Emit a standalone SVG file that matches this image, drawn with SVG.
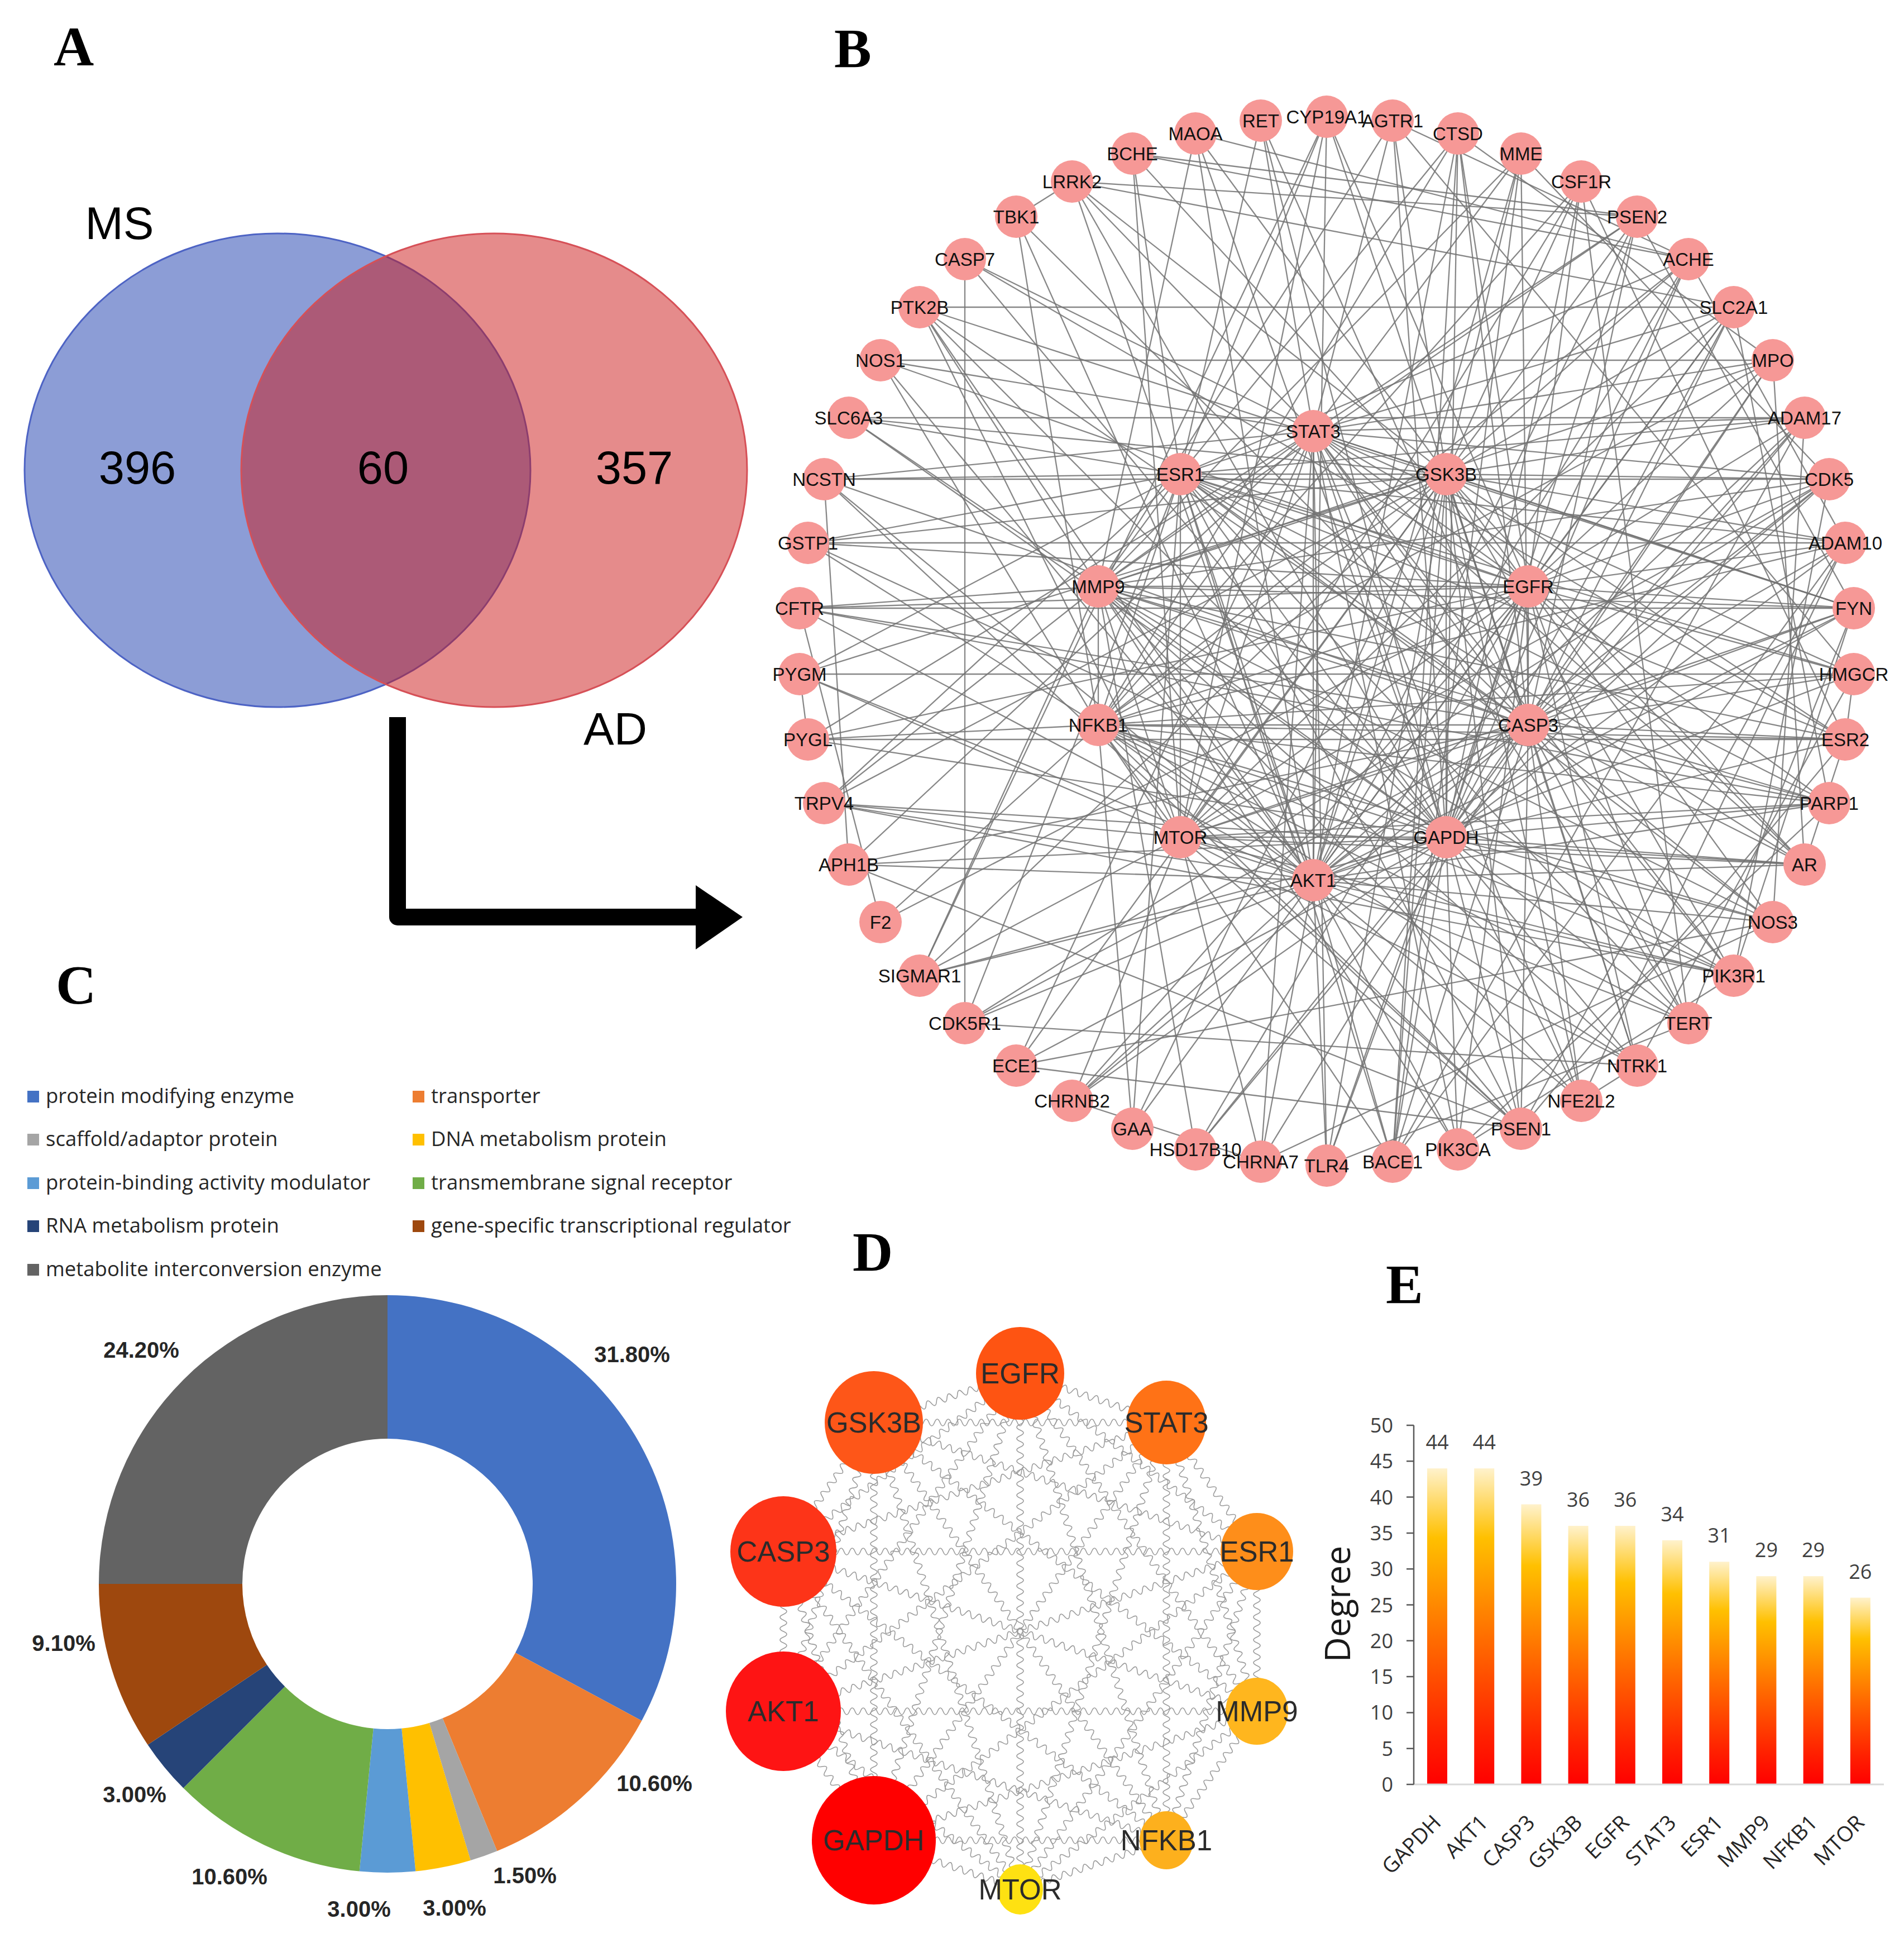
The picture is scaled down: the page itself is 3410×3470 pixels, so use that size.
<svg xmlns="http://www.w3.org/2000/svg" width="3410" height="3470" viewBox="0 0 3410 3470">
<style>
.pl{font-family:"Liberation Serif","Times New Roman",serif;font-weight:bold;font-size:100px;fill:#000}
.vt{font-family:"Liberation Sans",Arial,sans-serif;fill:#000;text-anchor:middle}
.edge path{stroke:#727272;stroke-width:2.3;stroke-opacity:.85;fill:none}
.bn circle{fill:#f69896}
.bn text{font-family:"Liberation Sans",Arial,sans-serif;font-size:33px;text-anchor:middle;fill:#111}
.lg text{font-family:"Open Sans","Liberation Sans",sans-serif;font-size:36.5px;fill:#262626}
.pc{font-family:"Liberation Sans",Arial,sans-serif;font-weight:bold;font-size:40px;fill:#262626;text-anchor:middle}
.dn text{font-family:"Liberation Sans",Arial,sans-serif;font-size:51px;text-anchor:middle;fill:#2b2b2b}
.wv use{stroke:#9b9b9b;stroke-width:1.6;fill:none}
.et{font-family:"Open Sans","Liberation Sans",sans-serif;font-size:36px;fill:#404040}
</style>
<defs>
<linearGradient id="barg" x1="0" y1="0" x2="0" y2="1">
<stop offset="0" stop-color="#fff2cc"/>
<stop offset="0.22" stop-color="#ffc000"/>
<stop offset="0.55" stop-color="#ff6a00"/>
<stop offset="0.85" stop-color="#ff2000"/>
<stop offset="1" stop-color="#ff0000"/>
</linearGradient>
<path id="w280" vector-effect="non-scaling-stroke" d="M0 0q5 -12 10 0t10 0t10 0t10 0t10 0t10 0t10 0t10 0t10 0t10 0t10 0t10 0t10 0t10 0t10 0t10 0t10 0t10 0t10 0t10 0t10 0t10 0t10 0t10 0t10 0t10 0t10 0t10 0"/>
<path id="w530" vector-effect="non-scaling-stroke" d="M0 0q5 -12 10 0t10 0t10 0t10 0t10 0t10 0t10 0t10 0t10 0t10 0t10 0t10 0t10 0t10 0t10 0t10 0t10 0t10 0t10 0t10 0t10 0t10 0t10 0t10 0t10 0t10 0t10 0t10 0t10 0t10 0t10 0t10 0t10 0t10 0t10 0t10 0t10 0t10 0t10 0t10 0t10 0t10 0t10 0t10 0t10 0t10 0t10 0t10 0t10 0t10 0t10 0t10 0t10 0"/>
<path id="w740" vector-effect="non-scaling-stroke" d="M0 0q5 -12 10 0t10 0t10 0t10 0t10 0t10 0t10 0t10 0t10 0t10 0t10 0t10 0t10 0t10 0t10 0t10 0t10 0t10 0t10 0t10 0t10 0t10 0t10 0t10 0t10 0t10 0t10 0t10 0t10 0t10 0t10 0t10 0t10 0t10 0t10 0t10 0t10 0t10 0t10 0t10 0t10 0t10 0t10 0t10 0t10 0t10 0t10 0t10 0t10 0t10 0t10 0t10 0t10 0t10 0t10 0t10 0t10 0t10 0t10 0t10 0t10 0t10 0t10 0t10 0t10 0t10 0t10 0t10 0t10 0t10 0t10 0t10 0t10 0"/>
<path id="w860" vector-effect="non-scaling-stroke" d="M0 0q5 -12 10 0t10 0t10 0t10 0t10 0t10 0t10 0t10 0t10 0t10 0t10 0t10 0t10 0t10 0t10 0t10 0t10 0t10 0t10 0t10 0t10 0t10 0t10 0t10 0t10 0t10 0t10 0t10 0t10 0t10 0t10 0t10 0t10 0t10 0t10 0t10 0t10 0t10 0t10 0t10 0t10 0t10 0t10 0t10 0t10 0t10 0t10 0t10 0t10 0t10 0t10 0t10 0t10 0t10 0t10 0t10 0t10 0t10 0t10 0t10 0t10 0t10 0t10 0t10 0t10 0t10 0t10 0t10 0t10 0t10 0t10 0t10 0t10 0t10 0t10 0t10 0t10 0t10 0t10 0t10 0t10 0t10 0t10 0t10 0"/>
<path id="w910" vector-effect="non-scaling-stroke" d="M0 0q5 -12 10 0t10 0t10 0t10 0t10 0t10 0t10 0t10 0t10 0t10 0t10 0t10 0t10 0t10 0t10 0t10 0t10 0t10 0t10 0t10 0t10 0t10 0t10 0t10 0t10 0t10 0t10 0t10 0t10 0t10 0t10 0t10 0t10 0t10 0t10 0t10 0t10 0t10 0t10 0t10 0t10 0t10 0t10 0t10 0t10 0t10 0t10 0t10 0t10 0t10 0t10 0t10 0t10 0t10 0t10 0t10 0t10 0t10 0t10 0t10 0t10 0t10 0t10 0t10 0t10 0t10 0t10 0t10 0t10 0t10 0t10 0t10 0t10 0t10 0t10 0t10 0t10 0t10 0t10 0t10 0t10 0t10 0t10 0t10 0t10 0t10 0t10 0t10 0t10 0t10 0"/>
</defs>
<rect width="3410" height="3470" fill="#fff"/>

<!-- Panel labels -->
<text class="pl" x="96" y="117">A</text>
<text class="pl" x="1494" y="120">B</text>
<text class="pl" x="100" y="1797">C</text>
<text class="pl" x="1527" y="2275">D</text>
<text class="pl" x="2482" y="2333">E</text>

<!-- Panel A: Venn -->
<g id="venn-MS">
<ellipse cx="497" cy="842" rx="453" ry="424" fill="#8c9dd6" stroke="#4d63c4" stroke-width="3"/>
<text class="vt" x="214" y="428" font-size="82">MS</text>
</g>
<g id="venn-AD">
<ellipse cx="885" cy="842" rx="453" ry="424" fill="#cb1717" fill-opacity="0.5" stroke="#d65057" stroke-width="3"/>
<text class="vt" x="1102" y="1333" font-size="82">AD</text>
</g>
<text class="vt" x="246" y="866" font-size="83">396</text>
<text class="vt" x="686" y="866" font-size="83">60</text>
<text class="vt" x="1136" y="866" font-size="83">357</text>
<g id="arrow-A-B">
<path d="M712 1284L712 1642L1252 1642" fill="none" stroke="#000" stroke-width="30" stroke-linejoin="round"/>
<polygon points="1246,1585 1330,1642 1246,1700" fill="#000"/>
</g>

<!-- Panel B: network connectors -->
<g id="connectors-B" class="edge">
<path d="M2352 772L2590 849"/><path d="M2352 772L2737 1050"/><path d="M2352 772L2737 1298"/><path d="M2352 772L2590 1499"/><path d="M2352 772L2352 1576"/><path d="M2352 772L2114 1499"/><path d="M2352 772L1967 1298"/><path d="M2352 772L1967 1050"/><path d="M2352 772L2114 849"/>
<path d="M2590 849L2737 1050"/><path d="M2590 849L2737 1298"/><path d="M2590 849L2590 1499"/><path d="M2590 849L2352 1576"/><path d="M2590 849L2114 1499"/><path d="M2590 849L1967 1298"/><path d="M2590 849L1967 1050"/><path d="M2590 849L2114 849"/>
<path d="M2737 1050L2737 1298"/><path d="M2737 1050L2590 1499"/><path d="M2737 1050L2352 1576"/><path d="M2737 1050L2114 1499"/><path d="M2737 1050L1967 1298"/><path d="M2737 1050L1967 1050"/><path d="M2737 1050L2114 849"/>
<path d="M2737 1298L2590 1499"/><path d="M2737 1298L2352 1576"/><path d="M2737 1298L2114 1499"/><path d="M2737 1298L1967 1298"/><path d="M2737 1298L1967 1050"/><path d="M2737 1298L2114 849"/>
<path d="M2590 1499L2352 1576"/><path d="M2590 1499L2114 1499"/><path d="M2590 1499L1967 1298"/><path d="M2590 1499L1967 1050"/><path d="M2590 1499L2114 849"/>
<path d="M2352 1576L2114 1499"/><path d="M2352 1576L1967 1298"/><path d="M2352 1576L1967 1050"/><path d="M2352 1576L2114 849"/>
<path d="M2114 1499L1967 1298"/><path d="M2114 1499L1967 1050"/><path d="M2114 1499L2114 849"/>
<path d="M1967 1298L1967 1050"/><path d="M1967 1298L2114 849"/><path d="M1967 1050L2114 849"/>
<!-- GAPDH -->
<path d="M2590 1499L2494 216"/><path d="M2590 1499L2611 239"/><path d="M2590 1499L2832 325"/><path d="M2590 1499L2932 388"/><path d="M2590 1499L3024 464"/><path d="M2590 1499L3105 550"/><path d="M2590 1499L3175 645"/><path d="M2590 1499L3276 858"/><path d="M2590 1499L3305 972"/><path d="M2590 1499L3320 1089"/><path d="M2590 1499L3305 1324"/><path d="M2590 1499L3276 1438"/><path d="M2590 1499L3232 1548"/><path d="M2590 1499L3175 1651"/><path d="M2590 1499L3105 1747"/><path d="M2590 1499L3024 1832"/><path d="M2590 1499L2932 1908"/><path d="M2590 1499L2832 1971"/><path d="M2590 1499L2724 2021"/><path d="M2590 1499L2611 2058"/><path d="M2590 1499L2494 2080"/><path d="M2590 1499L2376 2087"/><path d="M2590 1499L2141 2058"/><path d="M2590 1499L1920 1971"/><path d="M2590 1499L1820 1908"/><path d="M2590 1499L1647 1747"/><path d="M2590 1499L1520 1548"/><path d="M2590 1499L1447 1324"/><path d="M2590 1499L1447 972"/><path d="M2590 1499L1520 748"/><path d="M2590 1499L1647 550"/><path d="M2590 1499L1728 464"/><path d="M2590 1499L1920 325"/><path d="M2590 1499L2141 239"/><path d="M2590 1499L2258 216"/>
<!-- AKT1 -->
<path d="M2352 1576L2376 209"/><path d="M2352 1576L2611 239"/><path d="M2352 1576L2724 275"/><path d="M2352 1576L2932 388"/><path d="M2352 1576L3024 464"/><path d="M2352 1576L3105 550"/><path d="M2352 1576L3232 748"/><path d="M2352 1576L3276 858"/><path d="M2352 1576L3320 1089"/><path d="M2352 1576L3320 1207"/><path d="M2352 1576L3276 1438"/><path d="M2352 1576L3232 1548"/><path d="M2352 1576L3175 1651"/><path d="M2352 1576L3105 1747"/><path d="M2352 1576L3024 1832"/><path d="M2352 1576L2832 1971"/><path d="M2352 1576L2724 2021"/><path d="M2352 1576L2611 2058"/><path d="M2352 1576L2494 2080"/><path d="M2352 1576L2376 2087"/><path d="M2352 1576L2258 2080"/><path d="M2352 1576L2028 2021"/><path d="M2352 1576L1920 1971"/><path d="M2352 1576L1728 1832"/><path d="M2352 1576L1647 1747"/><path d="M2352 1576L1520 1548"/><path d="M2352 1576L1476 1438"/><path d="M2352 1576L1432 1207"/><path d="M2352 1576L1432 1089"/><path d="M2352 1576L1476 858"/><path d="M2352 1576L1577 645"/><path d="M2352 1576L1647 550"/><path d="M2352 1576L1820 388"/><path d="M2352 1576L1920 325"/><path d="M2352 1576L2141 239"/>
<!-- CASP3 -->
<path d="M2737 1298L2376 209"/><path d="M2737 1298L2611 239"/><path d="M2737 1298L2724 275"/><path d="M2737 1298L2932 388"/><path d="M2737 1298L3105 550"/><path d="M2737 1298L3175 645"/><path d="M2737 1298L3232 748"/><path d="M2737 1298L3276 858"/><path d="M2737 1298L3305 972"/><path d="M2737 1298L3320 1089"/><path d="M2737 1298L3320 1207"/><path d="M2737 1298L3305 1324"/><path d="M2737 1298L3276 1438"/><path d="M2737 1298L3232 1548"/><path d="M2737 1298L3175 1651"/><path d="M2737 1298L3105 1747"/><path d="M2737 1298L3024 1832"/><path d="M2737 1298L2932 1908"/><path d="M2737 1298L2832 1971"/><path d="M2737 1298L2724 2021"/><path d="M2737 1298L2494 2080"/><path d="M2737 1298L2258 2080"/><path d="M2737 1298L1920 1971"/><path d="M2737 1298L1728 1832"/><path d="M2737 1298L1520 1548"/><path d="M2737 1298L1432 1089"/><path d="M2737 1298L1476 858"/><path d="M2737 1298L1647 550"/><path d="M2737 1298L1820 388"/><path d="M2737 1298L2258 216"/>
<!-- GSK3B -->
<path d="M2590 849L2494 216"/><path d="M2590 849L2724 275"/><path d="M2590 849L2832 325"/><path d="M2590 849L2932 388"/><path d="M2590 849L3024 464"/><path d="M2590 849L3105 550"/><path d="M2590 849L3232 748"/><path d="M2590 849L3276 858"/><path d="M2590 849L3305 972"/><path d="M2590 849L3320 1089"/><path d="M2590 849L3305 1324"/><path d="M2590 849L3232 1548"/><path d="M2590 849L3105 1747"/><path d="M2590 849L2932 1908"/><path d="M2590 849L2832 1971"/><path d="M2590 849L2724 2021"/><path d="M2590 849L2494 2080"/><path d="M2590 849L2376 2087"/><path d="M2590 849L2028 2021"/><path d="M2590 849L1820 1908"/><path d="M2590 849L1647 1747"/><path d="M2590 849L1476 1438"/><path d="M2590 849L1432 1207"/><path d="M2590 849L1447 972"/><path d="M2590 849L1520 748"/><path d="M2590 849L1920 325"/><path d="M2590 849L2141 239"/>
<!-- EGFR -->
<path d="M2737 1050L2376 209"/><path d="M2737 1050L2611 239"/><path d="M2737 1050L2832 325"/><path d="M2737 1050L3024 464"/><path d="M2737 1050L3105 550"/><path d="M2737 1050L3175 645"/><path d="M2737 1050L3232 748"/><path d="M2737 1050L3276 858"/><path d="M2737 1050L3305 972"/><path d="M2737 1050L3320 1089"/><path d="M2737 1050L3320 1207"/><path d="M2737 1050L3276 1438"/><path d="M2737 1050L3232 1548"/><path d="M2737 1050L3175 1651"/><path d="M2737 1050L3024 1832"/><path d="M2737 1050L2932 1908"/><path d="M2737 1050L2611 2058"/><path d="M2737 1050L2376 2087"/><path d="M2737 1050L2141 2058"/><path d="M2737 1050L1920 1971"/><path d="M2737 1050L1577 1651"/><path d="M2737 1050L1447 1324"/><path d="M2737 1050L1432 1089"/><path d="M2737 1050L1447 972"/><path d="M2737 1050L1577 645"/><path d="M2737 1050L1728 464"/><path d="M2737 1050L2028 275"/>
<!-- STAT3 -->
<path d="M2352 772L2494 216"/><path d="M2352 772L2724 275"/><path d="M2352 772L2932 388"/><path d="M2352 772L3105 550"/><path d="M2352 772L3175 645"/><path d="M2352 772L3232 748"/><path d="M2352 772L3276 858"/><path d="M2352 772L3320 1089"/><path d="M2352 772L3320 1207"/><path d="M2352 772L3305 1324"/><path d="M2352 772L3232 1548"/><path d="M2352 772L3105 1747"/><path d="M2352 772L3024 1832"/><path d="M2352 772L2832 1971"/><path d="M2352 772L2611 2058"/><path d="M2352 772L2376 2087"/><path d="M2352 772L2258 2080"/><path d="M2352 772L1820 1908"/><path d="M2352 772L1520 1548"/><path d="M2352 772L1447 1324"/><path d="M2352 772L1476 858"/><path d="M2352 772L1577 645"/><path d="M2352 772L1728 464"/><path d="M2352 772L1920 325"/><path d="M2352 772L2258 216"/>
<!-- ESR1 -->
<path d="M2114 849L2376 209"/><path d="M2114 849L2611 239"/><path d="M2114 849L3024 464"/><path d="M2114 849L3232 748"/><path d="M2114 849L3305 972"/><path d="M2114 849L3320 1207"/><path d="M2114 849L3305 1324"/><path d="M2114 849L3276 1438"/><path d="M2114 849L3232 1548"/><path d="M2114 849L3175 1651"/><path d="M2114 849L3024 1832"/><path d="M2114 849L2724 2021"/><path d="M2114 849L2494 2080"/><path d="M2114 849L2028 2021"/><path d="M2114 849L1728 1832"/><path d="M2114 849L1476 1438"/><path d="M2114 849L1432 1207"/><path d="M2114 849L1447 972"/><path d="M2114 849L1476 858"/><path d="M2114 849L1520 748"/><path d="M2114 849L2028 275"/><path d="M2114 849L2258 216"/>
<!-- MMP9 -->
<path d="M1967 1050L2494 216"/><path d="M1967 1050L2724 275"/><path d="M1967 1050L2932 388"/><path d="M1967 1050L3175 645"/><path d="M1967 1050L3276 858"/><path d="M1967 1050L3320 1089"/><path d="M1967 1050L3305 1324"/><path d="M1967 1050L3276 1438"/><path d="M1967 1050L3175 1651"/><path d="M1967 1050L3105 1747"/><path d="M1967 1050L2932 1908"/><path d="M1967 1050L2832 1971"/><path d="M1967 1050L2611 2058"/><path d="M1967 1050L2141 2058"/><path d="M1967 1050L1647 1747"/><path d="M1967 1050L1476 1438"/><path d="M1967 1050L1432 1089"/><path d="M1967 1050L1520 748"/><path d="M1967 1050L1647 550"/><path d="M1967 1050L2141 239"/>
<!-- NFKB1 -->
<path d="M1967 1298L2611 239"/><path d="M1967 1298L2832 325"/><path d="M1967 1298L3024 464"/><path d="M1967 1298L3175 645"/><path d="M1967 1298L3305 972"/><path d="M1967 1298L3320 1207"/><path d="M1967 1298L3305 1324"/><path d="M1967 1298L3276 1438"/><path d="M1967 1298L3175 1651"/><path d="M1967 1298L3105 1747"/><path d="M1967 1298L3024 1832"/><path d="M1967 1298L2932 1908"/><path d="M1967 1298L2724 2021"/><path d="M1967 1298L2494 2080"/><path d="M1967 1298L2028 2021"/><path d="M1967 1298L1577 1651"/><path d="M1967 1298L1447 1324"/><path d="M1967 1298L1447 972"/><path d="M1967 1298L1577 645"/><path d="M1967 1298L1820 388"/>
<!-- MTOR -->
<path d="M2114 1499L2376 209"/><path d="M2114 1499L2832 325"/><path d="M2114 1499L3105 550"/><path d="M2114 1499L3276 858"/><path d="M2114 1499L3320 1089"/><path d="M2114 1499L3276 1438"/><path d="M2114 1499L3232 1548"/><path d="M2114 1499L3105 1747"/><path d="M2114 1499L2932 1908"/><path d="M2114 1499L2724 2021"/><path d="M2114 1499L2258 2080"/><path d="M2114 1499L1920 1971"/><path d="M2114 1499L1647 1747"/><path d="M2114 1499L1476 1438"/><path d="M2114 1499L1432 1207"/><path d="M2114 1499L1647 550"/><path d="M2114 1499L2028 275"/>
<!-- outer-outer -->
<path d="M1647 550L3105 550"/><path d="M1577 645L3175 645"/><path d="M1476 858L3276 858"/><path d="M1647 550L3320 1089"/><path d="M1447 972L3305 972"/><path d="M1520 748L3232 748"/><path d="M1920 325L2932 388"/><path d="M2028 275L3024 464"/><path d="M2141 239L3024 464"/><path d="M1820 1908L3175 1651"/><path d="M1520 1548L2724 2021"/><path d="M1520 1548L1476 858"/><path d="M1476 858L2724 2021"/><path d="M1920 1971L2258 2080"/><path d="M1447 1324L1432 1207"/><path d="M2494 2080L3305 972"/><path d="M2494 2080L3232 748"/><path d="M2724 2021L3305 972"/><path d="M2724 275L2494 2080"/><path d="M2611 239L2494 2080"/><path d="M1820 388L1920 325"/><path d="M3276 858L1728 1832"/><path d="M3105 1747L2611 2058"/><path d="M3105 1747L3320 1089"/><path d="M2932 1908L2832 1971"/><path d="M3232 1548L3305 1324"/><path d="M3320 1207L3305 1324"/><path d="M1577 1651L1432 1089"/><path d="M1476 1438L3105 1747"/><path d="M1647 1747L2376 209"/><path d="M1728 464L1728 1832"/><path d="M2494 216L3320 1207"/><path d="M2832 325L3024 1832"/><path d="M2141 2058L3232 748"/><path d="M1432 1089L3276 1438"/>
<path d="M3024 464L3305 972"/><path d="M3105 550L3276 1438"/><path d="M3175 645L3232 1548"/><path d="M3232 748L3175 1651"/><path d="M3320 1089L3024 1832"/><path d="M3320 1207L2932 1908"/><path d="M3305 972L2832 1971"/><path d="M3305 1324L2724 2021"/><path d="M3276 1438L2611 2058"/><path d="M3276 858L3105 1747"/><path d="M2932 388L3320 1089"/><path d="M2832 325L3305 1324"/><path d="M2724 275L3276 858"/><path d="M2611 239L3175 645"/><path d="M2494 216L3024 464"/><path d="M2028 275L2932 388"/><path d="M1920 325L3105 550"/><path d="M1432 1207L3320 1207"/><path d="M1476 1438L3232 1548"/><path d="M1447 1324L3305 1324"/><path d="M1728 1832L2932 1908"/><path d="M1820 1908L2724 2021"/><path d="M2376 2087L3024 1832"/><path d="M2258 2080L3175 1651"/><path d="M1432 1089L3320 1089"/>
</g>

<!-- Panel B: nodes -->
<g id="n-CYP19A1" class="bn"><circle cx="2376" cy="209" r="38"/><text x="2376" y="221">CYP19A1</text></g>
<g id="n-AGTR1" class="bn"><circle cx="2494" cy="216" r="38"/><text x="2494" y="228">AGTR1</text></g>
<g id="n-CTSD" class="bn"><circle cx="2611" cy="239" r="38"/><text x="2611" y="251">CTSD</text></g>
<g id="n-MME" class="bn"><circle cx="2724" cy="275" r="38"/><text x="2724" y="287">MME</text></g>
<g id="n-CSF1R" class="bn"><circle cx="2832" cy="325" r="38"/><text x="2832" y="337">CSF1R</text></g>
<g id="n-PSEN2" class="bn"><circle cx="2932" cy="388" r="38"/><text x="2932" y="400">PSEN2</text></g>
<g id="n-ACHE" class="bn"><circle cx="3024" cy="464" r="38"/><text x="3024" y="476">ACHE</text></g>
<g id="n-SLC2A1" class="bn"><circle cx="3105" cy="550" r="38"/><text x="3105" y="562">SLC2A1</text></g>
<g id="n-MPO" class="bn"><circle cx="3175" cy="645" r="38"/><text x="3175" y="657">MPO</text></g>
<g id="n-ADAM17" class="bn"><circle cx="3232" cy="748" r="38"/><text x="3232" y="760">ADAM17</text></g>
<g id="n-CDK5" class="bn"><circle cx="3276" cy="858" r="38"/><text x="3276" y="870">CDK5</text></g>
<g id="n-ADAM10" class="bn"><circle cx="3305" cy="972" r="38"/><text x="3305" y="984">ADAM10</text></g>
<g id="n-FYN" class="bn"><circle cx="3320" cy="1089" r="38"/><text x="3320" y="1101">FYN</text></g>
<g id="n-HMGCR" class="bn"><circle cx="3320" cy="1207" r="38"/><text x="3320" y="1219">HMGCR</text></g>
<g id="n-ESR2" class="bn"><circle cx="3305" cy="1324" r="38"/><text x="3305" y="1336">ESR2</text></g>
<g id="n-PARP1" class="bn"><circle cx="3276" cy="1438" r="38"/><text x="3276" y="1450">PARP1</text></g>
<g id="n-AR" class="bn"><circle cx="3232" cy="1548" r="38"/><text x="3232" y="1560">AR</text></g>
<g id="n-NOS3" class="bn"><circle cx="3175" cy="1651" r="38"/><text x="3175" y="1663">NOS3</text></g>
<g id="n-PIK3R1" class="bn"><circle cx="3105" cy="1747" r="38"/><text x="3105" y="1759">PIK3R1</text></g>
<g id="n-TERT" class="bn"><circle cx="3024" cy="1832" r="38"/><text x="3024" y="1844">TERT</text></g>
<g id="n-NTRK1" class="bn"><circle cx="2932" cy="1908" r="38"/><text x="2932" y="1920">NTRK1</text></g>
<g id="n-NFE2L2" class="bn"><circle cx="2832" cy="1971" r="38"/><text x="2832" y="1983">NFE2L2</text></g>
<g id="n-PSEN1" class="bn"><circle cx="2724" cy="2021" r="38"/><text x="2724" y="2033">PSEN1</text></g>
<g id="n-PIK3CA" class="bn"><circle cx="2611" cy="2058" r="38"/><text x="2611" y="2070">PIK3CA</text></g>
<g id="n-BACE1" class="bn"><circle cx="2494" cy="2080" r="38"/><text x="2494" y="2092">BACE1</text></g>
<g id="n-TLR4" class="bn"><circle cx="2376" cy="2087" r="38"/><text x="2376" y="2099">TLR4</text></g>
<g id="n-CHRNA7" class="bn"><circle cx="2258" cy="2080" r="38"/><text x="2258" y="2092">CHRNA7</text></g>
<g id="n-HSD17B10" class="bn"><circle cx="2141" cy="2058" r="38"/><text x="2141" y="2070">HSD17B10</text></g>
<g id="n-GAA" class="bn"><circle cx="2028" cy="2021" r="38"/><text x="2028" y="2033">GAA</text></g>
<g id="n-CHRNB2" class="bn"><circle cx="1920" cy="1971" r="38"/><text x="1920" y="1983">CHRNB2</text></g>
<g id="n-ECE1" class="bn"><circle cx="1820" cy="1908" r="38"/><text x="1820" y="1920">ECE1</text></g>
<g id="n-CDK5R1" class="bn"><circle cx="1728" cy="1832" r="38"/><text x="1728" y="1844">CDK5R1</text></g>
<g id="n-SIGMAR1" class="bn"><circle cx="1647" cy="1747" r="38"/><text x="1647" y="1759">SIGMAR1</text></g>
<g id="n-F2" class="bn"><circle cx="1577" cy="1651" r="38"/><text x="1577" y="1663">F2</text></g>
<g id="n-APH1B" class="bn"><circle cx="1520" cy="1548" r="38"/><text x="1520" y="1560">APH1B</text></g>
<g id="n-TRPV4" class="bn"><circle cx="1476" cy="1438" r="38"/><text x="1476" y="1450">TRPV4</text></g>
<g id="n-PYGL" class="bn"><circle cx="1447" cy="1324" r="38"/><text x="1447" y="1336">PYGL</text></g>
<g id="n-PYGM" class="bn"><circle cx="1432" cy="1207" r="38"/><text x="1432" y="1219">PYGM</text></g>
<g id="n-CFTR" class="bn"><circle cx="1432" cy="1089" r="38"/><text x="1432" y="1101">CFTR</text></g>
<g id="n-GSTP1" class="bn"><circle cx="1447" cy="972" r="38"/><text x="1447" y="984">GSTP1</text></g>
<g id="n-NCSTN" class="bn"><circle cx="1476" cy="858" r="38"/><text x="1476" y="870">NCSTN</text></g>
<g id="n-SLC6A3" class="bn"><circle cx="1520" cy="748" r="38"/><text x="1520" y="760">SLC6A3</text></g>
<g id="n-NOS1" class="bn"><circle cx="1577" cy="645" r="38"/><text x="1577" y="657">NOS1</text></g>
<g id="n-PTK2B" class="bn"><circle cx="1647" cy="550" r="38"/><text x="1647" y="562">PTK2B</text></g>
<g id="n-CASP7" class="bn"><circle cx="1728" cy="464" r="38"/><text x="1728" y="476">CASP7</text></g>
<g id="n-TBK1" class="bn"><circle cx="1820" cy="388" r="38"/><text x="1820" y="400">TBK1</text></g>
<g id="n-LRRK2" class="bn"><circle cx="1920" cy="325" r="38"/><text x="1920" y="337">LRRK2</text></g>
<g id="n-BCHE" class="bn"><circle cx="2028" cy="275" r="38"/><text x="2028" y="287">BCHE</text></g>
<g id="n-MAOA" class="bn"><circle cx="2141" cy="239" r="38"/><text x="2141" y="251">MAOA</text></g>
<g id="n-RET" class="bn"><circle cx="2258" cy="216" r="38"/><text x="2258" y="228">RET</text></g>
<g id="n-STAT3" class="bn"><circle cx="2352" cy="772" r="38"/><text x="2352" y="784">STAT3</text></g>
<g id="n-GSK3B" class="bn"><circle cx="2590" cy="849" r="38"/><text x="2590" y="861">GSK3B</text></g>
<g id="n-EGFR" class="bn"><circle cx="2737" cy="1050" r="38"/><text x="2737" y="1062">EGFR</text></g>
<g id="n-CASP3" class="bn"><circle cx="2737" cy="1298" r="38"/><text x="2737" y="1310">CASP3</text></g>
<g id="n-GAPDH" class="bn"><circle cx="2590" cy="1499" r="38"/><text x="2590" y="1511">GAPDH</text></g>
<g id="n-AKT1" class="bn"><circle cx="2352" cy="1576" r="38"/><text x="2352" y="1588">AKT1</text></g>
<g id="n-MTOR" class="bn"><circle cx="2114" cy="1499" r="38"/><text x="2114" y="1511">MTOR</text></g>
<g id="n-NFKB1" class="bn"><circle cx="1967" cy="1298" r="38"/><text x="1967" y="1310">NFKB1</text></g>
<g id="n-MMP9" class="bn"><circle cx="1967" cy="1050" r="38"/><text x="1967" y="1062">MMP9</text></g>
<g id="n-ESR1" class="bn"><circle cx="2114" cy="849" r="38"/><text x="2114" y="861">ESR1</text></g>

<!-- Panel C: legend -->
<g id="legend-C" class="lg">
<rect x="49" y="1953" width="21" height="21" fill="#4472c4"/><text x="82" y="1975">protein modifying enzyme</text>
<rect x="739" y="1953" width="21" height="21" fill="#ed7d31"/><text x="772" y="1975">transporter</text>
<rect x="49" y="2030" width="21" height="21" fill="#a5a5a5"/><text x="82" y="2052">scaffold/adaptor protein</text>
<rect x="739" y="2030" width="21" height="21" fill="#ffc000"/><text x="772" y="2052">DNA metabolism protein</text>
<rect x="49" y="2108" width="21" height="21" fill="#5b9bd5"/><text x="82" y="2130">protein-binding activity modulator</text>
<rect x="739" y="2108" width="21" height="21" fill="#70ad47"/><text x="772" y="2130">transmembrane signal receptor</text>
<rect x="49" y="2185" width="21" height="21" fill="#264478"/><text x="82" y="2207">RNA metabolism protein</text>
<rect x="739" y="2185" width="21" height="21" fill="#9e480e"/><text x="772" y="2207">gene-specific transcriptional regulator</text>
<rect x="49" y="2263" width="21" height="21" fill="#636363"/><text x="82" y="2285">metabolite interconversion enzyme</text>
</g>
<!-- Panel C: donut -->
<g id="donut-C">
<path fill="#4472c4" d="M694 2319A517 517 0 0 1 1149.3 3080.9L923 2959.2A260 260 0 0 0 694 2576Z"/>
<path fill="#ed7d31" d="M1149.3 3080.9A517 517 0 0 1 890.3 3314.3L792.7 3076.6A260 260 0 0 0 923 2959.2Z"/>
<path fill="#a5a5a5" d="M890.3 3314.3A517 517 0 0 1 842.8 3331.1L768.9 3085A260 260 0 0 0 792.7 3076.6Z"/>
<path fill="#ffc000" d="M842.8 3331.1A517 517 0 0 1 744.3 3350.6L719.3 3094.8A260 260 0 0 0 768.9 3085Z"/>
<path fill="#5b9bd5" d="M744.3 3350.6A517 517 0 0 1 643.7 3350.6L668.7 3094.8A260 260 0 0 0 719.3 3094.8Z"/>
<path fill="#70ad47" d="M643.7 3350.6A517 517 0 0 1 328.4 3201.6L510.2 3019.8A260 260 0 0 0 668.7 3094.8Z"/>
<path fill="#264478" d="M328.4 3201.6A517 517 0 0 1 264.6 3123.9L478 2980.8A260 260 0 0 0 510.2 3019.8Z"/>
<path fill="#9e480e" d="M264.6 3123.9A517 517 0 0 1 177 2836L434 2836A260 260 0 0 0 478 2980.8Z"/>
<path fill="#636363" d="M177 2836A517 517 0 0 1 694 2319L694 2576A260 260 0 0 0 434 2836Z"/>
<text class="pc" x="1132" y="2439">31.80%</text>
<text class="pc" x="253" y="2431">24.20%</text>
<text class="pc" x="114" y="2956">9.10%</text>
<text class="pc" x="241" y="3227">3.00%</text>
<text class="pc" x="411" y="3374">10.60%</text>
<text class="pc" x="643" y="3432">3.00%</text>
<text class="pc" x="814" y="3430">3.00%</text>
<text class="pc" x="940" y="3372">1.50%</text>
<text class="pc" x="1172" y="3207">10.60%</text>
</g>

<!-- Panel D: wavy connectors -->
<g id="connectors-D" class="wv">
<use href="#w280" transform="translate(1827 2459) rotate(18.57) scale(0.987 1)"/>
<use href="#w530" transform="translate(1827 2459) rotate(36.96) scale(1.001 1)"/>
<use href="#w740" transform="translate(1827 2459) rotate(54.97) scale(0.998 1)"/>
<use href="#w860" transform="translate(1827 2459) rotate(72.6) scale(1.019 1)"/>
<use href="#w910" transform="translate(1827 2459) rotate(90) scale(1.015 1)"/>
<use href="#w860" transform="translate(1827 2459) rotate(107.4) scale(1.019 1)"/>
<use href="#w740" transform="translate(1827 2459) rotate(125.03) scale(0.998 1)"/>
<use href="#w530" transform="translate(1827 2459) rotate(143.04) scale(1.001 1)"/>
<use href="#w280" transform="translate(1827 2459) rotate(161.43) scale(0.987 1)"/>
<use href="#w280" transform="translate(2089 2547) rotate(54.96) scale(1.0075 1)"/>
<use href="#w530" transform="translate(2089 2547) rotate(72.6) scale(1.022 1)"/>
<use href="#w740" transform="translate(2089 2547) rotate(90) scale(1.011 1)"/>
<use href="#w860" transform="translate(2089 2547) rotate(107.4) scale(1.019 1)"/>
<use href="#w910" transform="translate(2089 2547) rotate(125.01) scale(1.004 1)"/>
<use href="#w860" transform="translate(2089 2547) rotate(142.99) scale(0.999 1)"/>
<use href="#w740" transform="translate(2089 2547) rotate(161.39) scale(0.978 1)"/>
<use href="#w530" transform="translate(2089 2547) rotate(180) scale(0.989 1)"/>
<use href="#w280" transform="translate(2251 2778) rotate(90) scale(1.021 1)"/>
<use href="#w530" transform="translate(2251 2778) rotate(107.4) scale(1.022 1)"/>
<use href="#w740" transform="translate(2251 2778) rotate(125.03) scale(0.998 1)"/>
<use href="#w860" transform="translate(2251 2778) rotate(143.01) scale(0.999 1)"/>
<use href="#w910" transform="translate(2251 2778) rotate(161.36) scale(0.983 1)"/>
<use href="#w860" transform="translate(2251 2778) rotate(180) scale(0.986 1)"/>
<use href="#w740" transform="translate(2251 2778) rotate(198.61) scale(0.978 1)"/>
<use href="#w280" transform="translate(2251 3064) rotate(125.04) scale(1.0075 1)"/>
<use href="#w530" transform="translate(2251 3064) rotate(143.04) scale(1.001 1)"/>
<use href="#w740" transform="translate(2251 3064) rotate(161.39) scale(0.978 1)"/>
<use href="#w860" transform="translate(2251 3064) rotate(180) scale(0.986 1)"/>
<use href="#w910" transform="translate(2251 3064) rotate(198.64) scale(0.983 1)"/>
<use href="#w860" transform="translate(2251 3064) rotate(217) scale(0.999 1)"/>
<use href="#w280" transform="translate(2089 3295) rotate(161.43) scale(0.987 1)"/>
<use href="#w530" transform="translate(2089 3295) rotate(180) scale(0.989 1)"/>
<use href="#w740" transform="translate(2089 3295) rotate(198.61) scale(0.978 1)"/>
<use href="#w860" transform="translate(2089 3295) rotate(217) scale(0.999 1)"/>
<use href="#w910" transform="translate(2089 3295) rotate(234.99) scale(1.004 1)"/>
<use href="#w280" transform="translate(1827 3383) rotate(198.57) scale(0.987 1)"/>
<use href="#w530" transform="translate(1827 3383) rotate(216.96) scale(1.001 1)"/>
<use href="#w740" transform="translate(1827 3383) rotate(234.97) scale(0.998 1)"/>
<use href="#w860" transform="translate(1827 3383) rotate(252.6) scale(1.019 1)"/>
<use href="#w280" transform="translate(1565 3295) rotate(234.96) scale(1.0075 1)"/>
<use href="#w530" transform="translate(1565 3295) rotate(252.6) scale(1.022 1)"/>
<use href="#w740" transform="translate(1565 3295) rotate(270) scale(1.011 1)"/>
<use href="#w280" transform="translate(1403 3064) rotate(270) scale(1.021 1)"/>
<use href="#w530" transform="translate(1403 3064) rotate(287.4) scale(1.022 1)"/>
<use href="#w280" transform="translate(1403 2778) rotate(305.04) scale(1.0075 1)"/>
</g>
<!-- Panel D: nodes -->
<g id="d-EGFR" class="dn"><ellipse cx="1827" cy="2459" rx="79" ry="83" fill="#fe5412"/><text x="1827" y="2477">EGFR</text></g>
<g id="d-STAT3" class="dn"><ellipse cx="2089" cy="2547" rx="71" ry="75" fill="#ff7216"/><text x="2089" y="2565">STAT3</text></g>
<g id="d-ESR1" class="dn"><ellipse cx="2251" cy="2778" rx="65" ry="69" fill="#fe8e1a"/><text x="2251" y="2796">ESR1</text></g>
<g id="d-MMP9" class="dn"><ellipse cx="2251" cy="3064" rx="56" ry="60" fill="#ffb61e"/><text x="2251" y="3082">MMP9</text></g>
<g id="d-NFKB1" class="dn"><ellipse cx="2089" cy="3295" rx="48" ry="52" fill="#fdb01d"/><text x="2089" y="3313">NFKB1</text></g>
<g id="d-MTOR" class="dn"><ellipse cx="1827" cy="3383" rx="41" ry="45" fill="#fee112"/><text x="1827" y="3401">MTOR</text></g>
<g id="d-GAPDH" class="dn"><ellipse cx="1565" cy="3295" rx="111" ry="115" fill="#ff0000"/><text x="1565" y="3313">GAPDH</text></g>
<g id="d-AKT1" class="dn"><ellipse cx="1403" cy="3064" rx="103" ry="107" fill="#fe1414"/><text x="1403" y="3082">AKT1</text></g>
<g id="d-CASP3" class="dn"><ellipse cx="1403" cy="2778" rx="95" ry="99" fill="#fd3418"/><text x="1403" y="2796">CASP3</text></g>
<g id="d-GSK3B" class="dn"><ellipse cx="1565" cy="2547" rx="88" ry="92" fill="#fe5618"/><text x="1565" y="2565">GSK3B</text></g>

<!-- Panel E: bar chart -->
<g id="chart-E">
<g fill="url(#barg)">
<rect x="2556" y="2629.2" width="36" height="565.8"/>
<rect x="2640.2" y="2629.2" width="36" height="565.8"/>
<rect x="2724.4" y="2693.5" width="36" height="501.5"/>
<rect x="2808.6" y="2732" width="36" height="463"/>
<rect x="2892.8" y="2732" width="36" height="463"/>
<rect x="2977" y="2757.8" width="36" height="437.2"/>
<rect x="3061.2" y="2796.3" width="36" height="398.7"/>
<rect x="3145.4" y="2822.1" width="36" height="372.9"/>
<rect x="3229.6" y="2822.1" width="36" height="372.9"/>
<rect x="3313.8" y="2860.6" width="36" height="334.4"/>
</g>
<line x1="2532" y1="3195" x2="3374" y2="3195" stroke="#d9d9d9" stroke-width="3"/>
<path d="M2532 2552L2532 3195M2519 3195H2532M2519 3130.7H2532M2519 3066.4H2532M2519 3002.1H2532M2519 2937.8H2532M2519 2873.5H2532M2519 2809.2H2532M2519 2744.9H2532M2519 2680.6H2532M2519 2616.3H2532M2519 2552H2532" stroke="#595959" stroke-width="2.5" fill="none"/>
<g class="et" text-anchor="end">
<text x="2495" y="3208">0</text>
<text x="2495" y="3143.7">5</text>
<text x="2495" y="3079.4">10</text>
<text x="2495" y="3015.1">15</text>
<text x="2495" y="2950.8">20</text>
<text x="2495" y="2886.5">25</text>
<text x="2495" y="2822.2">30</text>
<text x="2495" y="2757.9">35</text>
<text x="2495" y="2693.6">40</text>
<text x="2495" y="2629.3">45</text>
<text x="2495" y="2565">50</text>
</g>
<g class="et" text-anchor="middle" fill="#595959">
<text x="2574" y="2595">44</text>
<text x="2658.2" y="2595">44</text>
<text x="2742.4" y="2659.5">39</text>
<text x="2826.6" y="2698">36</text>
<text x="2910.8" y="2698">36</text>
<text x="2995" y="2723.8">34</text>
<text x="3079.2" y="2762.3">31</text>
<text x="3163.4" y="2788.1">29</text>
<text x="3247.6" y="2788.1">29</text>
<text x="3331.8" y="2826.6">26</text>
</g>
<text x="2418" y="2872" transform="rotate(-90 2418 2872)" text-anchor="middle" font-family="'Open Sans','Liberation Sans',sans-serif" font-size="62" fill="#1a1a1a">Degree</text>
<g font-family="'Open Sans','Liberation Sans',sans-serif" font-size="38" fill="#262626" text-anchor="end">
<text x="2583" y="3266" transform="rotate(-45 2583 3266)">GAPDH</text>
<text x="2667" y="3266" transform="rotate(-45 2667 3266)">AKT1</text>
<text x="2751" y="3266" transform="rotate(-45 2751 3266)">CASP3</text>
<text x="2836" y="3266" transform="rotate(-45 2836 3266)">GSK3B</text>
<text x="2920" y="3266" transform="rotate(-45 2920 3266)">EGFR</text>
<text x="3004" y="3266" transform="rotate(-45 3004 3266)">STAT3</text>
<text x="3088" y="3266" transform="rotate(-45 3088 3266)">ESR1</text>
<text x="3172" y="3266" transform="rotate(-45 3172 3266)">MMP9</text>
<text x="3257" y="3266" transform="rotate(-45 3257 3266)">NFKB1</text>
<text x="3341" y="3266" transform="rotate(-45 3341 3266)">MTOR</text>
</g>
</g>
</svg>
